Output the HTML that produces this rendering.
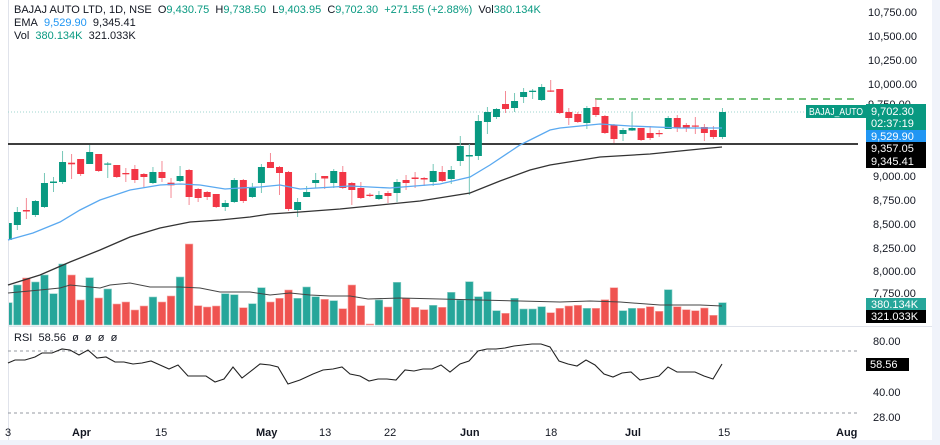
<!DOCTYPE html>
<html><head><meta charset="utf-8"><style>
html,body{margin:0;padding:0;background:#fff;}
body{width:940px;height:445px;overflow:hidden;position:relative;font-family:"Liberation Sans",sans-serif;}
svg{position:absolute;left:0;top:0;}
.lg{position:absolute;left:14px;font-size:11px;color:#131722;white-space:nowrap;}
.g{color:#089981}.b{color:#2196f3}
</style></head><body>
<svg id="s" width="940" height="445" xmlns="http://www.w3.org/2000/svg" font-family="Liberation Sans, sans-serif" font-size="11">
<defs><clipPath id="cp"><rect x="9" y="0" width="850" height="440"/></clipPath></defs>
<rect x="932" y="0" width="8" height="445" fill="#f0f3fa"/>
<rect x="0" y="440" width="940" height="5" fill="#f0f3fa"/>
<line x1="8.5" y1="0" x2="8.5" y2="440" stroke="#e0e3eb"/>
<line x1="8" y1="326.5" x2="932" y2="326.5" stroke="#e0e3eb"/>
<line x1="8" y1="112" x2="858" y2="112" stroke="#9fd6cf" stroke-dasharray="1,2"/>
<line x1="595" y1="99" x2="858" y2="99" stroke="#4caf50" stroke-width="1.5" stroke-dasharray="7,5"/>
<line x1="8" y1="144" x2="858" y2="144" stroke="#222" stroke-width="1.8"/>
<line x1="8" y1="351" x2="858" y2="351" stroke="#9598a1" stroke-dasharray="3,3"/>
<line x1="8" y1="413" x2="858" y2="413" stroke="#9598a1" stroke-dasharray="3,3"/>
<g clip-path="url(#cp)"><g id="vol"></g><g id="cand"></g></g>
<polyline fill="none" stroke="#5aa9f0" stroke-width="1.3" points="8,240 33,233 60,222 80,210 100,200 130,190 160,185 180,184 200,185 225,189 240,188 260,187 280,185 300,189 350,186 390,188 440,184 470,177 490,165 520,145 550,130 560,128 600,124 630,126 680,128 722,128"/>
<polyline fill="none" stroke="#333" stroke-width="1.3" points="8,285 40,275 70,262 100,250 130,237 160,228 190,222 220,220 250,217 270,214 300,212 340,209 380,205 420,201 470,193 500,181 530,170 550,165 600,157 650,154 700,149 722,147"/>
<polyline fill="none" stroke="#444" stroke-width="1" points="8,293 40,290 60,288 70,285 100,288 110,285 130,283 150,287 180,287 200,288 220,292 250,292 270,295 290,293 310,295 330,296 350,296 368,299 400,298 440,299 480,300 520,301 560,302 590,301 620,302 660,305 700,305 722,306"/>
<polyline fill="none" stroke="#222" stroke-width="1.1" points="8,363 15,360 25,360 35,357 42,353 52,353 62,349 70,350 79,355 88,350 97,358 106,357 115,362 124,362 133,364 142,363 151,361 160,365 169,369 178,365 188,376 206,376 215,382 224,379 233,367 242,378 260,364 270,365 278,367 288,384 300,380 313,374 323,370 333,369 342,367 350,374 360,376 369,381 378,379 387,379 396,380 405,370 414,371 423,369 432,369 441,365 450,372 460,364 469,361 478,351 487,349 496,349 505,348 514,346 523,345 532,344 541,344 550,347 559,361 568,364 577,366 586,360 595,365 604,374 613,377 622,373 631,372 640,380 650,378 659,376 668,367 677,372 686,372 695,372 704,376 713,379 722,364"/>
<g fill="#131722">
<text x="868" y="16">10,750.00</text><text x="868" y="40">10,500.00</text><text x="868" y="64">10,250.00</text><text x="868" y="88">10,000.00</text><text x="868" y="108">9,750.00</text>
<text x="873" y="180">9,000.00</text><text x="873" y="204">8,750.00</text><text x="873" y="228">8,500.00</text><text x="873" y="252">8,250.00</text><text x="873" y="275">8,000.00</text><text x="873" y="297">7,750.00</text>
<text x="873" y="345">80.00</text><text x="873" y="396">40.00</text><text x="873" y="421">28.00</text>
<text x="5" y="436">3</text><text x="72" y="436" font-weight="bold">Apr</text><text x="155" y="436">15</text><text x="256" y="436" font-weight="bold">May</text><text x="319" y="436">13</text><text x="384" y="436">22</text><text x="460" y="436" font-weight="bold">Jun</text><text x="545" y="436">18</text><text x="625" y="436" font-weight="bold">Jul</text><text x="718" y="436">15</text><text x="836" y="436" font-weight="bold">Aug</text>
</g>
<rect x="806" y="105" width="60" height="13" fill="#089981"/><text x="809" y="115" fill="#fff" font-size="10" textLength="54" lengthAdjust="spacingAndGlyphs">BAJAJ_AUTO</text>
<rect x="866" y="104" width="60" height="26" fill="#089981"/><text x="871" y="115" fill="#fff">9,702.30</text><text x="871" y="127" fill="#fff">02:37:19</text>
<rect x="866" y="130" width="60" height="12" fill="#2196f3"/><text x="871" y="140" fill="#fff">9,529.90</text>
<rect x="866" y="142" width="60" height="26" fill="#000"/><text x="871" y="152" fill="#fff">9,357.05</text><text x="871" y="165" fill="#fff">9,345.41</text>
<rect x="866" y="298" width="60" height="12" fill="#26a69a"/><text x="871" y="308" fill="#fff">380.134K</text>
<rect x="866" y="310" width="60" height="13" fill="#000"/><text x="871" y="320" fill="#fff">321.033K</text>
<rect x="866" y="358" width="43" height="13" fill="#000"/><text x="870" y="368" fill="#fff">58.56</text>
</svg>
<div class="lg" style="top:4px">BAJAJ AUTO LTD, 1D, NSE&nbsp; O<span class="g">9,430.75</span>&nbsp; H<span class="g">9,738.50</span>&nbsp; L<span class="g">9,403.95</span>&nbsp; C<span class="g">9,702.30</span>&nbsp; <span class="g">+271.55 (+2.88%)</span>&nbsp; Vol<span class="g">380.134K</span></div>
<div class="lg" style="top:17px">EMA&nbsp; <span class="b">9,529.90</span>&nbsp; 9,345.41</div>
<div class="lg" style="top:30px">Vol&nbsp; <span class="g">380.134K</span>&nbsp; 321.033K</div>
<div class="lg" style="top:332px">RSI&nbsp; 58.56&nbsp; ø&nbsp; ø&nbsp; ø&nbsp; ø</div>
<script>
var C=[[223,240,220,242,1],[212,225,207,230,1],[210,211.5,198,219,0],[201,215,200,217,1],[183,207,173,208,1],[181.5,183,177,192,1],[162,182,151,184,1],[162.7,164.3,154,179,0],[159,174,159,176,0],[152,164,145,164,1],[154,171,154,172,0],[163.5,164.5,162,178,1],[165,177,165,178,0],[173,174.3,168,182,0],[169,180,165,183,0],[174,177,173,187,0],[172,183,167,184,1],[172,178,161,182,0],[182.7,185.3,178,198,0],[176,181,166,182,1],[170,197,169,205,0],[189,198,188,202,0],[192,197,191,200,0],[194,207,194,208,0],[203,207,200,211,1],[180,202,178,203,1],[180,201,179,203,0],[187,197,183,198,1],[167,183,164,193,1],[162,168,153,168,0],[167,173,166,195,0],[172,209,171,211,0],[202,210,198,217,1],[192,197,186,197,1],[180,183,173,188,1],[176,178.5,176,189,0],[171,183,169,188,1],[172,188,166,189,0],[183,190,182,205,0],[188,198,182,199,0],[194.7,196,193,197,0],[195,199,191,200,1],[193,196,191,203,0],[182,193,179,202,1],[180,183,175,190,0],[177.5,179,172,188,0],[178,179.5,177,186,0],[171,182,164,186,1],[172,181,166,182,0],[170,179,166,184,1],[146,161,136,166,1],[155,156.5,144,195,1],[121,156,115,160,1],[112,122,107,134,1],[109,117,108,119,1],[104,109,91,113,0],[101,108,93,112,1],[92,97,88,103,1],[90.7,92,89,99,1],[87,100,84,101,1],[90.5,91.5,80,92,0],[89,113,89,114,0],[112,118,108,125,0],[114,122,112,123,0],[108,123,106,129,1],[107,115,99,117,0],[116,133,115,134,0],[125,139,124,143,0],[130,134,128,141,1],[128,130.5,112,131,1],[128,140,128,141,0],[133,138,126,140,0],[133,134.2,130,137,0],[118,129,116,129,1],[118,128,115,132,0],[125,128,123,132,0],[125.5,126.5,117,134,0],[127,133,124,141,0],[130,137,126,139,0],[112,137,108,139,1]];
var V=[[302.7,1],[285,1],[278,0],[282,1],[275,1],[293.7,1],[264,1],[275,0],[300,0],[277.7,1],[298,0],[289,1],[304,0],[302,0],[310,0],[306,0],[297,1],[302,0],[296,0],[277,1],[244,0],[305.7,0],[307,0],[306,0],[293.7,1],[294.7,1],[307.7,0],[303.7,1],[287.7,1],[302,0],[298.3,0],[290,0],[298.3,1],[287,1],[296.7,1],[299.3,0],[300.7,1],[308.7,0],[285,0],[305.7,0],[324,0],[300,1],[307,0],[282.3,1],[298.3,0],[307.3,0],[309.7,0],[305.3,1],[307.3,0],[292.3,1],[300,1],[281.7,1],[296.7,1],[291.7,1],[310.7,1],[313.3,0],[298.3,1],[309,1],[309,1],[306.7,1],[312.7,0],[308.3,0],[306,0],[305.3,0],[308.3,1],[308.3,0],[299.7,0],[287.7,0],[310.7,1],[308.3,1],[308.3,0],[306.7,0],[311.3,0],[289.7,1],[306.7,0],[309.7,0],[310.7,0],[308,0],[315.3,0],[302.7,1]];
var ns="http://www.w3.org/2000/svg",cg=document.getElementById("cand"),vg=document.getElementById("vol");
function el(g,t,a){var e=document.createElementNS(ns,t);for(var k in a)e.setAttribute(k,a[k]);g.appendChild(e);}
for(var i=0;i<80;i++){var x=8.3+9.04*i;
 var v=V[i];el(vg,"rect",{x:x-3.8,y:v[0],width:7.6,height:325-v[0],fill:v[1]?"#26a69a":"#ef5350",stroke:v[1]?"#8fd1c9":"#f7a9a7","stroke-width":0.6});
 var c=C[i],col=c[4]?"#089981":"#f23645";
 el(cg,"line",{x1:x,x2:x,y1:c[2],y2:c[3],stroke:c[4]?"#76c7b8":"#f48a95","stroke-width":1});
 el(cg,"rect",{x:x-3.5,y:c[0],width:7,height:Math.max(1.2,c[1]-c[0]),fill:col});
}
</script>
</body></html>
